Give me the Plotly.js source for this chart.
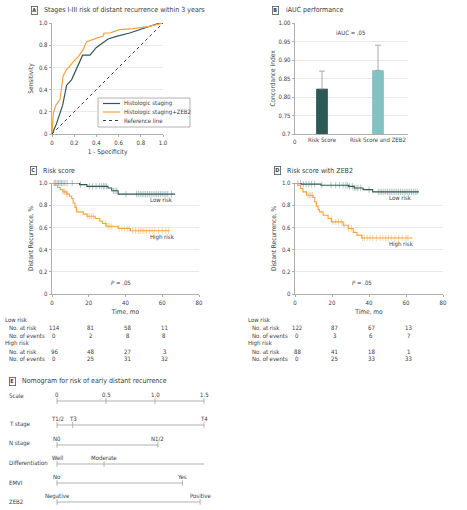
<!DOCTYPE html>
<html>
<head>
<meta charset="utf-8">
<script src="https://cdn.plot.ly/plotly-3.0.1.min.js"></script>
<style>html,body{margin:0;padding:0;background:#fff;}#chart{width:467px;height:510px;}</style>
</head>
<body>
<div id="chart"></div>
<script>
// ---------- DATA ----------
// Panel A: ROC curves
const rocNames = ['Histologic staging', 'Histologic staging+ZEB2', 'Reference line'];
const rocFprHist = [0, 0.036, 0.096, 0.132, 0.177, 0.216, 0.276, 0.342, 0.40, 0.505, 0.58, 0.70, 0.88, 0.97, 1.0];
const rocTprHist = [0, 0.08, 0.26, 0.44, 0.49, 0.58, 0.71, 0.71, 0.78, 0.856, 0.88, 0.91, 0.97, 1.0, 1.0];
const rocFprZeb = [0, 0.012, 0.036, 0.072, 0.10, 0.13, 0.16, 0.19, 0.24, 0.28, 0.31, 0.36, 0.42, 0.46, 0.47, 0.52, 0.61, 0.73, 0.88, 1.0];
const rocTprZeb = [0, 0.19, 0.26, 0.31, 0.52, 0.58, 0.61, 0.65, 0.70, 0.76, 0.83, 0.85, 0.87, 0.88, 0.91, 0.91, 0.94, 0.95, 0.97, 1.0];
const refLineX = [0, 1];
const refLineY = [0, 1];

// Panel B: iAUC
const iaucCategories = ['Risk Score', 'Risk Score and ZEB2'];
const iaucValues = [0.822, 0.872];
const iaucUpper = [0.870, 0.940];
const iaucTickVals = [0.7, 0.75, 0.8, 0.85, 0.9, 0.95, 1.0];
const iaucTickText = ['0.7', '0.75', '0.80', '0.85', '0.90', '0.95', '1.00'];

// Panel C: Risk score KM
const cLowTimes = [0, 15, 19, 30.5, 32.5, 36];
const cLowSurv = [1, 0.985, 0.97, 0.955, 0.93, 0.90];
const cLowEnd = 67;
const cLowCensor = [1.2, 2, 2.8, 3.6, 4.4, 5.2, 6, 7, 8.2, 11, 15.5, 20.3, 22, 24, 25.8, 27, 28, 28.8, 29.7, 33.4, 34.3, 35.2, 40.3, 46, 47, 48, 49, 50, 51, 52, 53, 54, 55, 56, 57, 58, 59, 60, 61, 62, 63, 65];
const cHighTimes = [0, 1.5, 3, 4.5, 6, 8, 9.5, 10.7, 11.5, 12.5, 13.3, 17, 19, 23.5, 26, 27.5, 29.5, 36, 42.6];
const cHighSurv = [1, 0.98, 0.96, 0.94, 0.92, 0.90, 0.88, 0.86, 0.82, 0.78, 0.74, 0.72, 0.70, 0.68, 0.655, 0.635, 0.61, 0.59, 0.57];
const cHighEnd = 64;
const cHighCensor = [6, 6.8, 7.5, 8.2, 19.5, 20.5, 21.5, 22.5, 29, 30.5, 31.5, 32.5, 36.5, 38, 39.5, 41, 42, 44, 45.5, 47, 48, 49, 50, 51.5, 53, 54.5, 56, 58, 60, 62, 63.5];

// Panel D: Risk score with ZEB2 KM
const dLowTimes = [0, 3.4, 14, 29, 32, 36.8, 42];
const dLowSurv = [1, 0.99, 0.98, 0.97, 0.955, 0.94, 0.92];
const dLowEnd = 67;
const dLowCensor = [1.6, 3, 4.5, 6, 7.5, 9, 10.6, 14.5, 19.5, 22, 24, 26, 27.5, 28.5, 29.5, 31, 32, 33, 34, 35.5, 40, 45, 46, 47, 48, 49, 50, 51, 52, 53, 54, 55, 56, 57, 58, 59, 60, 61, 62, 63, 64, 65, 66];
const dHighTimes = [0, 1.5, 3, 4.3, 6.2, 9.8, 10.7, 11.6, 12.5, 13.3, 15.2, 17.9, 19.7, 26, 28.8, 31.5, 33.5, 36];
const dHighSurv = [1, 0.98, 0.95, 0.92, 0.89, 0.87, 0.83, 0.79, 0.76, 0.74, 0.71, 0.68, 0.65, 0.62, 0.59, 0.555, 0.53, 0.505];
const dHighEnd = 63.5;
const dHighCensor = [7, 7.8, 8.6, 9.4, 19.6, 20.5, 22, 23.5, 25, 26.5, 29, 30.5, 36.5, 37.5, 39, 40.5, 42, 44, 46, 47.5, 49, 50.5, 52, 54, 56, 58, 60, 61];

// Risk tables
const riskTimes = [0, 20, 40, 60];
const cLowAtRisk = [114, 81, 58, 11];
const cLowEvents = [0, 2, 8, 8];
const cHighAtRisk = [96, 48, 27, 3];
const cHighEvents = [0, 25, 31, 32];
const dLowAtRisk = [122, 87, 67, 13];
const dLowEvents = [0, 3, 6, 7];
const dHighAtRisk = [88, 41, 18, 1];
const dHighEvents = [0, 25, 33, 33];

// Panel E: nomogram
const nomoVariables = ['Scale', 'T stage', 'N stage', 'Differentiation', 'EMVI', 'ZEB2'];
const nomoLevels = [['0', '0.5', '1.0', '1.5'], ['T1/2', 'T3', 'T4'], ['N0', 'N1/2'], ['Well', 'Moderate', 'Poor'], ['No', 'Yes'], ['Negative', 'Positive']];
const nomoPoints = [[0, 0.5, 1.0, 1.5], [0, 0.16, 1.5], [0, 1.03], [0, 0.48, 1.52], [0, 1.28], [0, 1.46]];

// ---------- LAYOUT CONFIG ----------
const W = 467, H = 510;
const FONT = '"Liberation Sans Narrow", "Arial Narrow", "DejaVu Sans Condensed", sans-serif';
const TXT = '#3a3a3a';
const AX = '#9a9a9a';
const GRID = '#e4e4e4';
const DARK = '#2c5855';
const ORANGE = '#f4a23e';
const DARK_CENS = '#7e9c99';
const ORANGE_CENS = '#f6b766';
const LIGHT = '#82c2c2';
const FS = 6;
const nomoLinePx = [401, 425, 445, 464, 483, 502];
const nomoNamePx = [395, 424, 443, 462, 482, 501];

const px = (x) => x / W;
const py = (y) => 1 - y / H;

function stepX(t, end) { return t.concat([end]); }
function stepY(s) { return s.concat([s[s.length - 1]]); }
function survAt(t, s, x) { let v = s[0]; for (let i = 0; i < t.length; i++) { if (t[i] <= x) v = s[i]; } return v; }

const traces = [];
// Panel A
traces.push({x: rocFprHist, y: rocTprHist, xaxis: 'x', yaxis: 'y', mode: 'lines', line: {color: DARK, width: 1.2}, name: rocNames[0], cliponaxis: false});
traces.push({x: rocFprZeb, y: rocTprZeb, xaxis: 'x', yaxis: 'y', mode: 'lines', line: {color: ORANGE, width: 1.2}, name: rocNames[1], cliponaxis: false});
traces.push({x: refLineX, y: refLineY, xaxis: 'x', yaxis: 'y', mode: 'lines', line: {color: '#222', width: 0.9, dash: 'dot'}, name: rocNames[2]});

// Panel B
traces.push({
  type: 'bar', x: iaucCategories, y: iaucValues, xaxis: 'x2', yaxis: 'y2', width: 0.21,
  marker: {color: [DARK, LIGHT]},
  error_y: {type: 'data', symmetric: false, array: iaucUpper.map((u, i) => u - iaucValues[i]), arrayminus: iaucValues.map(() => 0), color: '#a0a0a0', thickness: 0.9, width: 3}
});

// KM helper
function kmTraces(times, surv, end, censor, color, censColor, xa, ya) {
  return [
    {x: censor, y: censor.map(c => survAt(times, surv, c)), xaxis: xa, yaxis: ya, mode: 'markers', cliponaxis: false,
     marker: {symbol: 'line-ns', size: 4.5, color: censColor, line: {color: censColor, width: 0.6}}},
    {x: stepX(times, end), y: stepY(surv), xaxis: xa, yaxis: ya, mode: 'lines', line: {color: color, width: 1.1, shape: 'hv'}, cliponaxis: false}
  ];
}
traces.push(...kmTraces(cLowTimes, cLowSurv, cLowEnd, cLowCensor, DARK, DARK_CENS, 'x3', 'y3'));
traces.push(...kmTraces(cHighTimes, cHighSurv, cHighEnd, cHighCensor, ORANGE, ORANGE_CENS, 'x3', 'y3'));
traces.push(...kmTraces(dLowTimes, dLowSurv, dLowEnd, dLowCensor, DARK, DARK_CENS, 'x4', 'y4'));
traces.push(...kmTraces(dHighTimes, dHighSurv, dHighEnd, dHighCensor, ORANGE, ORANGE_CENS, 'x4', 'y4'));

// Panel E nomogram rows
nomoPoints.forEach((pts, i) => {
  traces.push({x: pts, y: pts.map(() => nomoLinePx[i]), xaxis: 'x5', yaxis: 'y5', mode: 'lines+markers', cliponaxis: false,
    line: {color: '#a8a8a8', width: 0.9},
    marker: {symbol: 'line-ns', size: 4, color: '#a8a8a8', line: {color: '#a8a8a8', width: 0.9}}});
});

const tickFont = {family: FONT, size: FS, color: TXT};
const titleFont = {family: FONT, size: 6.5, color: TXT};
function baseAxis(extra) {
  return Object.assign({showline: true, linecolor: AX, linewidth: 0.8, ticks: 'outside', ticklen: 2.5, tickwidth: 0.8, tickcolor: AX,
    tickfont: tickFont, zeroline: false, showgrid: false, fixedrange: true}, extra);
}
const unitTicks = [0, 0.2, 0.4, 0.6, 0.8, 1.0];
const unitText = ['0', '0.2', '0.4', '0.6', '0.8', '1.0'];
const kmTicks = [0, 20, 40, 60, 80];

const layout = {
  width: W, height: H, margin: {l: 0, r: 0, t: 0, b: 0}, paper_bgcolor: '#fff', plot_bgcolor: 'rgba(0,0,0,0)',
  showlegend: false, font: {family: FONT, size: FS, color: TXT},
  xaxis: baseAxis({domain: [px(52), px(163)], range: [0, 1], anchor: 'y', tickvals: unitTicks, ticktext: unitText,
    title: {text: '1 - Specificity', font: titleFont, standoff: 4}}),
  yaxis: baseAxis({domain: [py(134), py(23)], range: [0, 1], anchor: 'x', tickvals: unitTicks, ticktext: unitText, showgrid: true, gridcolor: GRID, gridwidth: 0.8,
    title: {text: 'Sensitivity', font: titleFont, standoff: 4}}),
  xaxis2: baseAxis({domain: [px(295), px(408)], type: 'category', range: [-0.482, 1.536], anchor: 'y2', ticks: '',
    tickfont: tickFont}),
  yaxis2: baseAxis({domain: [py(134), py(23)], range: [0.7, 1.0], anchor: 'x2', tickvals: iaucTickVals, ticktext: iaucTickText, showgrid: true, gridcolor: GRID, gridwidth: 0.8,
    title: {text: 'Concordance Index', font: titleFont, standoff: 2}}),
  xaxis3: baseAxis({domain: [px(52), px(199)], range: [0, 80], anchor: 'y3', tickvals: kmTicks,
    title: {text: 'Time, mo', font: titleFont, standoff: 4}}),
  yaxis3: baseAxis({domain: [py(294), py(183)], range: [0, 1], anchor: 'x3', tickvals: unitTicks, ticktext: unitText, showgrid: true, gridcolor: GRID, gridwidth: 0.8,
    title: {text: 'Distant Recurrence, %', font: titleFont, standoff: 4}}),
  xaxis4: baseAxis({domain: [px(295), px(443)], range: [0, 80], anchor: 'y4', tickvals: kmTicks,
    title: {text: 'Time, mo', font: titleFont, standoff: 4}}),
  yaxis4: baseAxis({domain: [py(294), py(183)], range: [0, 1], anchor: 'x4', tickvals: unitTicks, ticktext: unitText, showgrid: true, gridcolor: GRID, gridwidth: 0.8,
    title: {text: 'Distant Recurrence, %', font: titleFont, standoff: 4}}),
  xaxis5: {domain: [px(57), px(204)], range: [0, 1.5], anchor: 'y5', visible: false, fixedrange: true},
  yaxis5: {domain: [0, 1], range: [H, 0], anchor: 'x5', visible: false, fixedrange: true},
  annotations: [], shapes: []
};

const ann = layout.annotations;
function text(t, x, y, opts) {
  ann.push(Object.assign({text: t, x: px(x), y: py(y), xref: 'paper', yref: 'paper', showarrow: false, xanchor: 'left', yanchor: 'middle',
    font: {family: FONT, size: FS, color: TXT}}, opts || {}));
}
function panelLabel(letter, bx, y, title) {
  ann.push({text: '<b>' + letter + '</b>', x: px(bx), y: py(y), xref: 'paper', yref: 'paper', showarrow: false, xanchor: 'center', yanchor: 'middle',
    font: {family: FONT, size: 5.5, color: TXT}, bordercolor: '#555', borderwidth: 0.8, borderpad: 0.5});
  text(title, bx + 8, y, {font: {family: FONT, size: 7, color: TXT}});
}
panelLabel('A', 34, 10, 'Stages I-III risk of distant recurrence within 3 years');
panelLabel('B', 275.5, 10, 'iAUC performance');
panelLabel('C', 33, 171, 'Risk score');
panelLabel('D', 277, 171, 'Risk score with ZEB2');
panelLabel('E', 12, 381, 'Nomogram for risk of early distant recurrence');

// Panel A legend (manual, compact)
layout.shapes.push({type: 'rect', xref: 'paper', yref: 'paper', x0: px(98), x1: px(190), y0: py(127), y1: py(98), line: {color: '#a0a0a0', width: 0.8}, fillcolor: '#fff'});
const legColors = [DARK, ORANGE, '#222'];
const legDash = ['solid', 'solid', 'dot'];
[103.5, 112, 120.5].forEach((yy, i) => {
  layout.shapes.push({type: 'line', xref: 'paper', yref: 'paper', x0: px(103), x1: px(120), y0: py(yy), y1: py(yy), line: {color: legColors[i], width: i < 2 ? 1.2 : 0.9, dash: legDash[i]}});
  text(rocNames[i], 122, yy);
});

// Panel B texts
text('iAUC = .05', 350, 32, {xanchor: 'center'});
text('0', 295, 141, {xanchor: 'center'});

// Panel C/D texts
text('Low risk', 161, 200, {xanchor: 'center'});
text('High risk', 162, 237, {xanchor: 'center'});
text('<i>P</i> = .05', 121, 282, {xanchor: 'center'});
text('Low risk', 400, 198, {xanchor: 'center'});
text('High risk', 401, 244, {xanchor: 'center'});
text('<i>P</i> = .05', 362, 282, {xanchor: 'center'});

// Risk tables
function riskTable(xa, leftX, rows) {
  text('Low risk', leftX, 319);
  text('No. at risk', leftX + 4, 327);
  text('No. of events', leftX + 4, 335);
  text('High risk', leftX, 343);
  text('No. at risk', leftX + 4, 351);
  text('No. of events', leftX + 4, 358);
  const ys = [327, 335, 351, 358];
  rows.forEach((vals, r) => {
    vals.forEach((v, k) => {
      ann.push({text: String(v), x: riskTimes[k], y: py(ys[r]), xref: xa, yref: 'paper', showarrow: false, xanchor: 'center', yanchor: 'middle', xshift: 2,
        font: {family: FONT, size: FS, color: TXT}});
    });
  });
}
riskTable('x3', 3, [cLowAtRisk, cLowEvents, cHighAtRisk, cHighEvents]);
riskTable('x4', 246, [dLowAtRisk, dLowEvents, dHighAtRisk, dHighEvents]);

// Nomogram texts
nomoVariables.forEach((name, i) => {
  text(name, 7, nomoNamePx[i]);
  nomoPoints[i].forEach((p, k) => {
    ann.push({text: nomoLevels[i][k], x: p, y: nomoLinePx[i] - 6.5, xref: 'x5', yref: 'y5', showarrow: false, xanchor: 'center', yanchor: 'middle',
      font: {family: FONT, size: FS, color: TXT}});
  });
});

Plotly.newPlot('chart', traces, layout, {staticPlot: true, displayModeBar: false});
</script>
</body>
</html>
